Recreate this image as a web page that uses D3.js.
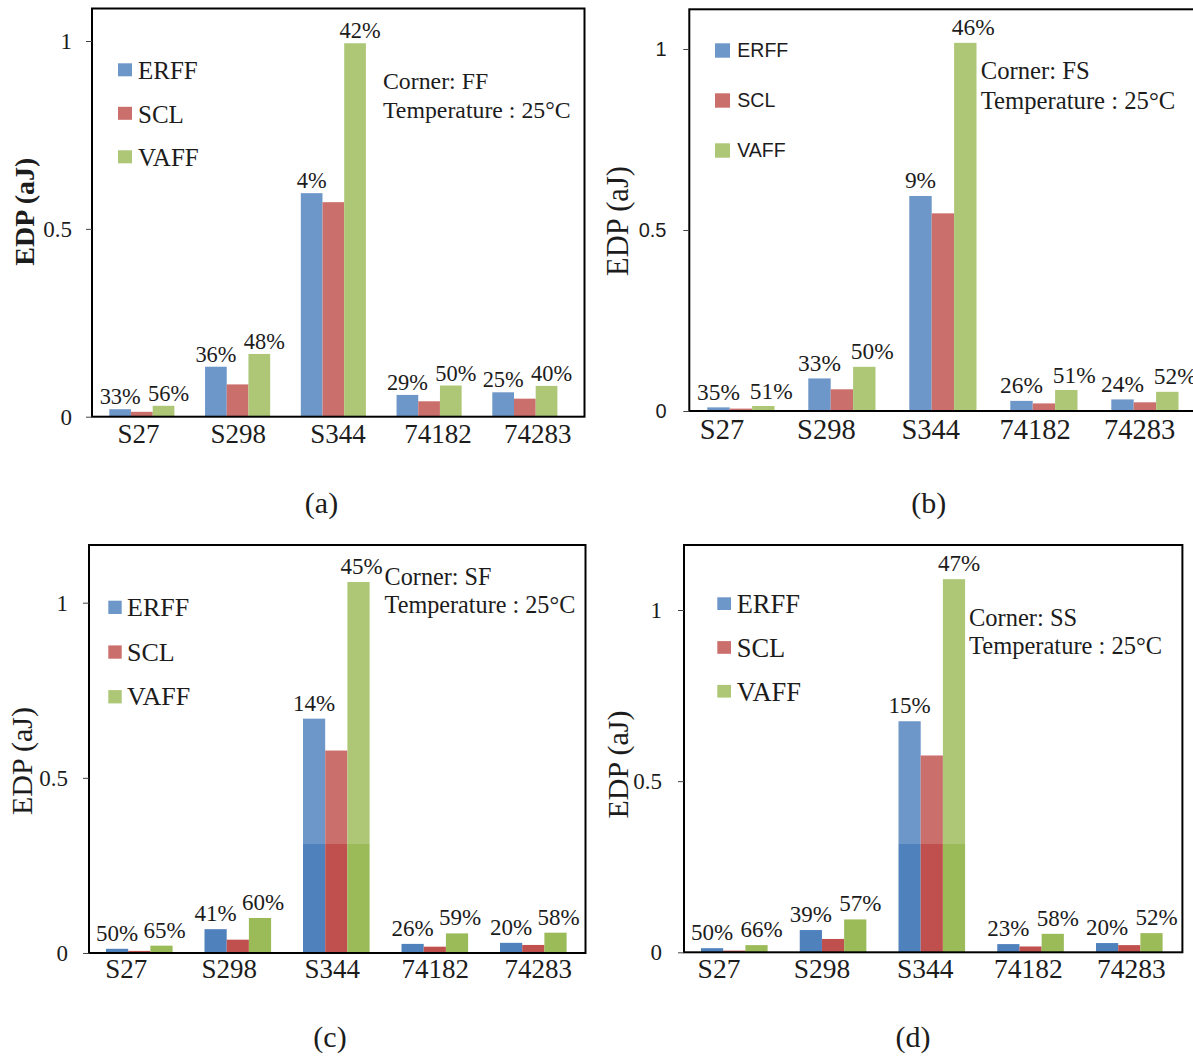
<!DOCTYPE html>
<html>
<head>
<meta charset="utf-8">
<script src="https://cdn.jsdelivr.net/npm/d3@7"></script>
<style>
  html, body { margin: 0; padding: 0; background: #fff; }
  svg { display: block; }
</style>
</head>
<body>
<svg id="fig" width="1193" height="1057"></svg>
<script>
// Benchmark circuits and flip-flop designs
const categories = ["S27", "S298", "S344", "74182", "74283"];
const series = ["ERFF", "SCL", "VAFF"];
const yTicks = [0, 0.5, 1];

// EDP (aJ), corner FF
const ffERFF = [0.020, 0.133, 0.595, 0.058, 0.065];
const ffSCL  = [0.013, 0.086, 0.571, 0.041, 0.048];
const ffVAFF = [0.029, 0.167, 0.994, 0.083, 0.082];
const ffVsERFF = ["33%", "36%", "4%", "29%", "25%"];
const ffVsVAFF = ["56%", "48%", "42%", "50%", "40%"];

// EDP (aJ), corner FS
const fsERFF = [0.010, 0.090, 0.594, 0.028, 0.032];
const fsSCL  = [0.0066, 0.060, 0.546, 0.021, 0.024];
const fsVAFF = [0.0138, 0.122, 1.017, 0.058, 0.053];
const fsVsERFF = ["35%", "33%", "9%", "26%", "24%"];
const fsVsVAFF = ["51%", "50%", "46%", "51%", "52%"];

// EDP (aJ), corner SF
const sfERFF = [0.012, 0.068, 0.669, 0.026, 0.029];
const sfSCL  = [0.006, 0.038, 0.578, 0.018, 0.023];
const sfVAFF = [0.021, 0.100, 1.059, 0.056, 0.058];
const sfVsERFF = ["50%", "41%", "14%", "26%", "20%"];
const sfVsVAFF = ["65%", "60%", "45%", "59%", "58%"];

// EDP (aJ), corner SS
const ssERFF = [0.012, 0.065, 0.675, 0.024, 0.027];
const ssSCL  = [0.005, 0.039, 0.575, 0.017, 0.021];
const ssVAFF = [0.021, 0.096, 1.090, 0.054, 0.056];
const ssVsERFF = ["50%", "39%", "15%", "23%", "20%"];
const ssVsVAFF = ["66%", "57%", "47%", "58%", "52%"];

const corners = ["FF", "FS", "SF", "SS"];
const panelTags = ["(a)", "(b)", "(c)", "(d)"];
const tempLabel = "Temperature : 25°C";
const yTitle = "EDP (aJ)";

const colors = { ERFF: "#4F81BD", SCL: "#C0504D", VAFF: "#9BBB59" };
const SERIF = "'Liberation Serif', 'Times New Roman', serif";
const SANS = "'Liberation Sans', Arial, sans-serif";
const INK = "#1c1c1c";

const panels = [
  { data: [ffERFF, ffSCL, ffVAFF], vsE: ffVsERFF, vsV: ffVsVAFF,
    frame: { x0: 92, x1: 584.5, y0: 8.5, yZero: 416.7, yOne: 41 },
    bars: { first: 109.3, step: 95.75, w: 21.7 },
    cat: { c0: 138.5, step: 99.8, base: 442.5, size: 27 },
    pct: { size: 22.4, gap: 5, vDx: 5 },
    leg: { font: SERIF, size: 25, x: 118, w: 14, h: 13, tx: 138, top: 63.3, gap: 43.5, off: 16 },
    note: { x: 383, y1: 89, y2: 118, size: 23.8 },
    yt: { x: 33.5, y: 211.7, size: 28, weight: "bold" },
    ticks: { font: SERIF, size: 23, right: 72 },
    tag: { x: 321.5, y: 513 } },
  { data: [fsERFF, fsSCL, fsVAFF], vsE: fsVsERFF, vsV: fsVsVAFF,
    frame: { x0: 689.3, x1: 1215, y0: 9.3, yZero: 411, yOne: 49 },
    bars: { first: 707.3, step: 101, w: 22.4 },
    cat: { c0: 722, step: 104.4, base: 439, size: 28.5 },
    pct: { size: 23.4, gap: 7.5, vDx: 8 },
    leg: { font: SANS, size: 19.5, x: 715, w: 15, h: 14.4, tx: 737.3, top: 43.3, gap: 50, off: 13.6 },
    note: { x: 980.7, y1: 79.3, y2: 109.3, size: 24.7 },
    yt: { x: 628, y: 221, size: 30.5, weight: "normal" },
    ticks: { font: SANS, size: 20, right: 666.5 },
    tag: { x: 928.7, y: 513 } },
  { data: [sfERFF, sfSCL, sfVAFF], vsE: sfVsERFF, vsV: sfVsVAFF,
    frame: { x0: 89, x1: 585.5, y0: 545, yZero: 953, yOne: 602.7 },
    bars: { first: 106, step: 98.5, w: 22.2 },
    cat: { c0: 126.3, step: 103, base: 978.3, size: 27 },
    pct: { size: 23, gap: 8, vDx: 3 },
    leg: { font: SERIF, size: 26, x: 108.3, w: 13.4, h: 13.3, tx: 127, top: 600.7, gap: 44.7, off: 15.3 },
    note: { x: 384.6, y1: 585, y2: 613.3, size: 24.2 },
    yt: { x: 32, y: 761, size: 30, weight: "normal" },
    ticks: { font: SERIF, size: 23, right: 68 },
    tag: { x: 330, y: 1047 } },
  { data: [ssERFF, ssSCL, ssVAFF], vsE: ssVsERFF, vsV: ssVsVAFF,
    frame: { x0: 684, x1: 1182.4, y0: 545, yZero: 952.3, yOne: 610 },
    bars: { first: 701, step: 98.75, w: 22.2 },
    cat: { c0: 719, step: 103.1, base: 978.3, size: 27.5 },
    pct: { size: 23, gap: 8, vDx: 5 },
    leg: { font: SERIF, size: 26.5, x: 717.3, w: 13.7, h: 12.7, tx: 736.7, top: 597.3, gap: 43.8, off: 16 },
    note: { x: 969, y1: 626, y2: 654, size: 24.5 },
    yt: { x: 628, y: 764.5, size: 30, weight: "normal" },
    ticks: { font: SERIF, size: 23, right: 662 },
    tag: { x: 913, y: 1047 } }
];

const svg = d3.select("#fig");
// coloured marks go underneath a light white wash; text and lines sit on top
const markLayer = svg.append("g");
const washLayer = svg.append("g");
const inkLayer = svg.append("g");

panels.forEach((p, pi) => {
  const m = markLayer.append("g");
  const g = inkLayer.append("g");
  const f = p.frame;

  // value axis
  const y = d3.scaleLinear().domain([0, 1]).range([f.yZero, f.yOne]);

  // bar groups: one band per circuit, split into three series bands
  const b = p.bars;
  const bw = b.w * series.length;
  const pad = 1 - bw / b.step;
  const r0 = b.first - (b.step - bw) / 2;
  const x = d3.scaleBand().domain(categories)
    .range([r0, r0 + b.step * categories.length])
    .paddingInner(pad).paddingOuter(pad / 2);
  const xs = d3.scaleBand().domain(series).range([0, x.bandwidth()]);

  // category label positions
  const c = p.cat;
  const xl = d3.scaleBand().domain(categories)
    .range([c.c0 - c.step / 2, c.c0 - c.step / 2 + c.step * categories.length]);

  // bars
  series.forEach((s, si) => {
    m.append("g").selectAll("rect")
      .data(p.data[si])
      .join("rect")
      .attr("x", (d, i) => x(categories[i]) + xs(s))
      .attr("width", xs.bandwidth())
      .attr("y", d => y(d))
      .attr("height", d => y(0) - y(d))
      .attr("fill", colors[s]);
  });

  // savings labels above ERFF and VAFF bars
  const pctLayer = g.append("g")
    .attr("font-family", SERIF).attr("font-size", p.pct.size)
    .attr("fill", INK).attr("text-anchor", "middle");
  pctLayer.selectAll("text.e")
    .data(p.vsE).join("text").attr("class", "e")
    .attr("x", (d, i) => x(categories[i]) + xs("ERFF") + xs.bandwidth() / 2)
    .attr("y", (d, i) => y(p.data[0][i]) - p.pct.gap)
    .text(d => d);
  pctLayer.selectAll("text.v")
    .data(p.vsV).join("text").attr("class", "v")
    .attr("x", (d, i) => x(categories[i]) + xs("VAFF") + xs.bandwidth() / 2 + p.pct.vDx)
    .attr("y", (d, i) => y(p.data[2][i]) - p.pct.gap)
    .text(d => d);

  // plot frame
  g.append("rect")
    .attr("x", f.x0).attr("y", f.y0)
    .attr("width", f.x1 - f.x0).attr("height", f.yZero - f.y0)
    .attr("fill", "none").attr("stroke", "#000").attr("stroke-width", 2);

  // y axis ticks
  const t = p.ticks;
  const yAxis = d3.axisLeft(y).tickValues(yTicks).tickFormat(d3.format("")).tickSize(6)
    .tickSizeOuter(0).tickPadding(f.x0 - t.right - 6);
  const ya = g.append("g").attr("transform", `translate(${f.x0},0)`).call(yAxis);
  ya.select(".domain").remove();
  ya.selectAll(".tick line").attr("stroke", "#444").attr("stroke-width", 1);
  ya.selectAll(".tick text")
    .attr("font-family", t.font).attr("font-size", t.size).attr("fill", INK);

  // category labels
  g.append("g").selectAll("text")
    .data(categories).join("text")
    .attr("x", d => xl(d) + xl.bandwidth() / 2)
    .attr("y", c.base)
    .attr("text-anchor", "middle")
    .attr("font-family", SERIF).attr("font-size", c.size).attr("fill", INK)
    .text(d => d);

  // legend
  const L = p.leg;
  series.forEach((s, si) => {
    const top = L.top + si * L.gap;
    m.append("rect").attr("x", L.x).attr("y", top).attr("width", L.w).attr("height", L.h)
      .attr("fill", colors[s]);
    g.append("text").attr("x", L.tx).attr("y", top + L.off)
      .attr("font-family", L.font).attr("font-size", L.size).attr("fill", INK)
      .text(s);
  });

  // corner / temperature note
  const n = p.note;
  g.append("text").attr("x", n.x).attr("y", n.y1)
    .attr("font-family", SERIF).attr("font-size", n.size).attr("fill", INK)
    .text("Corner: " + corners[pi]);
  g.append("text").attr("x", n.x).attr("y", n.y2)
    .attr("font-family", SERIF).attr("font-size", n.size).attr("fill", INK)
    .text(tempLabel);

  // y axis title
  g.append("text")
    .attr("transform", `translate(${p.yt.x},${p.yt.y}) rotate(-90)`)
    .attr("text-anchor", "middle")
    .attr("font-family", SERIF).attr("font-size", p.yt.size).attr("font-weight", p.yt.weight)
    .attr("fill", INK)
    .text(yTitle);

  // sub-figure tag
  g.append("text").attr("x", p.tag.x).attr("y", p.tag.y)
    .attr("text-anchor", "middle")
    .attr("font-family", SERIF).attr("font-size", 30).attr("fill", INK)
    .text(panelTags[pi]);
});

// soft white wash over the upper part of the figure
washLayer.append("rect")
  .attr("x", 0).attr("y", 0).attr("width", 1193).attr("height", 844)
  .attr("fill", "#fff").attr("opacity", 0.18)
  .attr("pointer-events", "none");
</script>
</body>
</html>
